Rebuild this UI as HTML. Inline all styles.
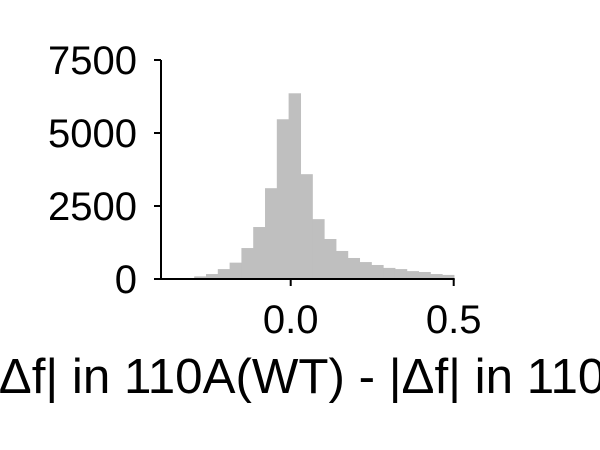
<!DOCTYPE html>
<html><head><meta charset="utf-8"><style>
html,body{margin:0;padding:0;background:#fff;overflow:hidden}
svg{display:block;font-family:"Liberation Sans",Arial,sans-serif}
</style></head><body>
<svg width="600" height="450">
<g id="bars"></g>
<g id="axes"></g>
<text x="-14" y="393" font-size="49.3" fill="#000">|Δf| in 110A(WT) - |Δf| in 110A(M)</text>
</svg>
<script>
const binStart = -0.296;
const binWidth = 0.0362;
const counts = [90,170,340,560,1060,1780,3110,5470,6360,3590,2050,1370,960,720,580,480,380,340,270,240,170,140];
const yTicks = [0,2500,5000,7500];
const yTickLabels = ["0","2500","5000","7500"];
const xTicks = [0.0,0.5];
const xTickLabels = ["0.0","0.5"];
const NS="http://www.w3.org/2000/svg";
const X0=290.7, XS=326, Y0=279, YS=219/7500;
const xs=v=>X0+v*XS, ys=v=>Y0-v*YS;
const bars=document.getElementById('bars'), axes=document.getElementById('axes');
counts.forEach((c,i)=>{
  const r=document.createElementNS(NS,'rect');
  const a=xs(binStart+i*binWidth), b=xs(binStart+(i+1)*binWidth);
  r.setAttribute('x',a);r.setAttribute('width',b-a+0.6);
  r.setAttribute('y',ys(c));r.setAttribute('height',Y0-ys(c));
  r.setAttribute('fill','#bfbfbf');
  
  
  bars.appendChild(r);
});
function line(x1,y1,x2,y2,name){
  const l=document.createElementNS(NS,'line');
  l.setAttribute('x1',x1);l.setAttribute('y1',y1);l.setAttribute('x2',x2);l.setAttribute('y2',y2);
  l.setAttribute('stroke','#000');l.setAttribute('stroke-width','2');
  
  
  axes.appendChild(l);
}
function text(x,y,s,anchor,name){
  const t=document.createElementNS(NS,'text');
  t.setAttribute('x',x);t.setAttribute('y',y);t.setAttribute('font-size','40');
  t.setAttribute('text-anchor',anchor);t.textContent=s;
  
  
  axes.appendChild(t);
}
line(161,ys(7500),161,Y0+1,'y-axis-line');
line(160,Y0,xs(0.5)+1,Y0,'x-axis-line');
yTicks.forEach((v,i)=>{line(154,ys(v),161,ys(v),'y-tick');text(137,ys(v)+14,yTickLabels[i],'end','y-tick-label');});
xTicks.forEach((v,i)=>{line(xs(v),Y0,xs(v),Y0+7,'x-tick');text(xs(v),333,xTickLabels[i],'middle','x-tick-label');});
</script>
</body></html>
